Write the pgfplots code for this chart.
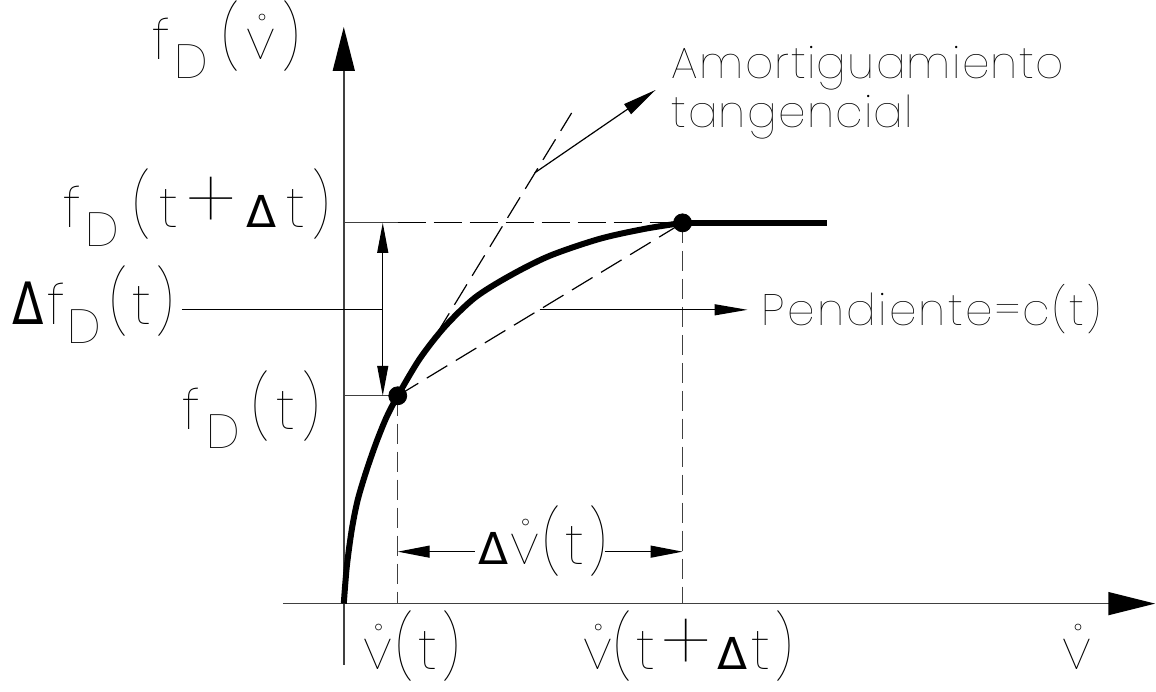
\documentclass[border=0pt]{standalone}
\usepackage{graphicx}
\usepackage{pgfplots}
\pgfplotsset{compat=1.18}
\usetikzlibrary{arrows.meta}
\usepackage{fontspec}
% thinnest available cut of the lettering face
\IfFontExistsTF{Poppins Thin}{\def\cadface{Poppins Thin}}
  {\IfFontExistsTF{Poppins ExtraLight}{\def\cadface{Poppins ExtraLight}}
    {\def\cadface{Poppins Light}}}
\newfontfamily\cad{\cadface}[LetterSpace=5.2]
\newfontfamily\cadA{\cadface}[LetterSpace=3.0]
\newfontfamily\cadm{\cadface}
\newfontfamily\dv{DejaVu Sans}
% glyph helpers for the hand-lettered formulas
\newcommand\bigsz{\fontsize{28}{30}\selectfont}
\newcommand\Ds{\raisebox{-9.5pt}{\fontsize{24}{26}\selectfont D}}
\newcommand\Dl[1][22]{{\dv\fontsize{#1}{#1}\selectfont Δ}}
\newcommand\lp{\scalebox{1}[1.12]{(}}
\newcommand\rp{\scalebox{1}[1.12]{)}}
\newcommand\bp{\raisebox{-1.5pt}{\scalebox{1.5}{+}}}
\newcommand\vd{\rlap{\kern0.2em\raisebox{0.68em}{\fontsize{8}{8}\selectfont$\circ$}}v}
\begin{document}
\begin{tikzpicture}[
  lbl/.style={anchor=base west, inner sep=0pt, font=\cadm\bigsz},
  txt/.style={anchor=base west, inner sep=0pt, font=\cad\fontsize{22}{26}\selectfont},
]
\begin{axis}[
  width=578pt, height=346pt, scale only axis,
  xmin=0, xmax=1156, ymin=0, ymax=692, y dir=reverse,
  axis lines=none, clip=false,
  every axis plot/.append style={line cap=butt},
]
% frame of the drawing
\addplot[draw=none] coordinates {(0,0) (1156,692)};
% axes
\addplot[black!75, line width=0.75pt, -{Triangle[length=22pt,width=11pt,color=black]}] coordinates {(344,665) (344,27)};
\addplot[black!75, line width=0.75pt, -{Triangle[length=23.5pt,width=11.5pt,color=black]}] coordinates {(283,604) (1156,604)};
% reference lines
\addplot[black!75, line width=0.6pt] coordinates {(344,223) (398,223)};
\addplot[black, line width=0.6pt, dash pattern=on 14pt off 4pt] coordinates {(398,223) (683,223)};
\addplot[black!75, line width=0.6pt] coordinates {(344,396) (398,396)};
\addplot[black!75, line width=0.6pt, dash pattern=on 10pt off 4pt] coordinates {(398,396) (398,604)};
\addplot[black!75, line width=0.6pt, dash pattern=on 10pt off 4pt] coordinates {(683,223) (683,604)};
% secant and tangent
\addplot[black, line width=0.6pt, dash pattern=on 12pt off 5pt] coordinates {(398,396) (683,223)};
\addplot[black, line width=0.6pt, dash pattern=on 12pt off 5pt] coordinates {(437,334) (572,113)};
% increment of force
\addplot[black, line width=0.6pt, {Triangle[length=15pt,width=5.5pt]}-{Triangle[length=15pt,width=5.5pt]}] coordinates {(383,223) (383,396)};
\addplot[black, line width=0.6pt] coordinates {(182,310) (383,310)};
\addplot[black, line width=0.6pt, -{Triangle[length=16.5pt,width=5.5pt]}] coordinates {(540,310) (748,310)};
% increment of velocity
\addplot[black, line width=0.6pt, {Triangle[length=16pt,width=6pt]}-] coordinates {(398,552) (475,552)};
\addplot[black, line width=0.6pt, -{Triangle[length=16pt,width=6pt]}] coordinates {(605,552) (683,552)};
% leader to the tangent label
\addplot[black, line width=0.6pt, -{Triangle[length=17pt,width=6pt]}] coordinates {(535,173) (656,90)};
% damping force curve
\addplot[black, line width=3pt, smooth, line join=round] coordinates {
  (344,604) (347,567) (352,530) (358,500) (367,470) (377,441.5) (387,417)
  (398,396) (420,359) (445,327) (475,298) (510,276) (550,256) (600,239)
  (645,229) (683,223)};
\addplot[black, line width=3pt] coordinates {(682,223) (828,223)};
\addplot[only marks, mark=*, mark size=4.5pt, black] coordinates {(398,396) (683,223)};
% labels
\node[lbl] at (axis cs:152,60) {f\kern2pt\Ds\kern7pt\lp\kern3pt\vd\kern3pt\rp};
\node[lbl] at (axis cs:63,228) {f\kern2pt\Ds\kern7pt\lp\kern4pt t\kern4pt\bp\kern5pt\Dl\kern5pt t\kern3pt\rp};
\node[lbl] at (axis cs:12,325) {\scalebox{1}[1.27]{\Dl[23]}\kern2pt f\kern1pt\Ds\kern4pt\lp\kern2pt t\kern2pt\rp};
\node[lbl] at (axis cs:182,430) {f\kern3pt\Ds\kern6pt\lp\kern3pt t\kern3pt\rp};
\node[lbl] at (axis cs:363,670) {\vd\kern2pt\lp\kern2pt t\kern2pt\rp};
\node[lbl] at (axis cs:583,670) {\vd\kern1pt\lp\kern2pt t\kern3pt\bp\kern3pt\Dl\kern2pt t\kern2pt\rp};
\node[lbl] at (axis cs:1063,670) {\vd};
\node[lbl] at (axis cs:478,565) {\Dl\kern1pt\vd\kern2pt\lp\kern2pt t\kern2pt\rp};
\node[txt] at (axis cs:762,326) {Pendiente=c(t)};
\node[txt, font=\cadA\fontsize{22}{26}\selectfont] at (axis cs:672,79) {Amortiguamiento};
\node[txt, font=\cadA\fontsize{22}{26}\selectfont] at (axis cs:672,128) {tangencial};
\end{axis}
\end{tikzpicture}
\end{document}
